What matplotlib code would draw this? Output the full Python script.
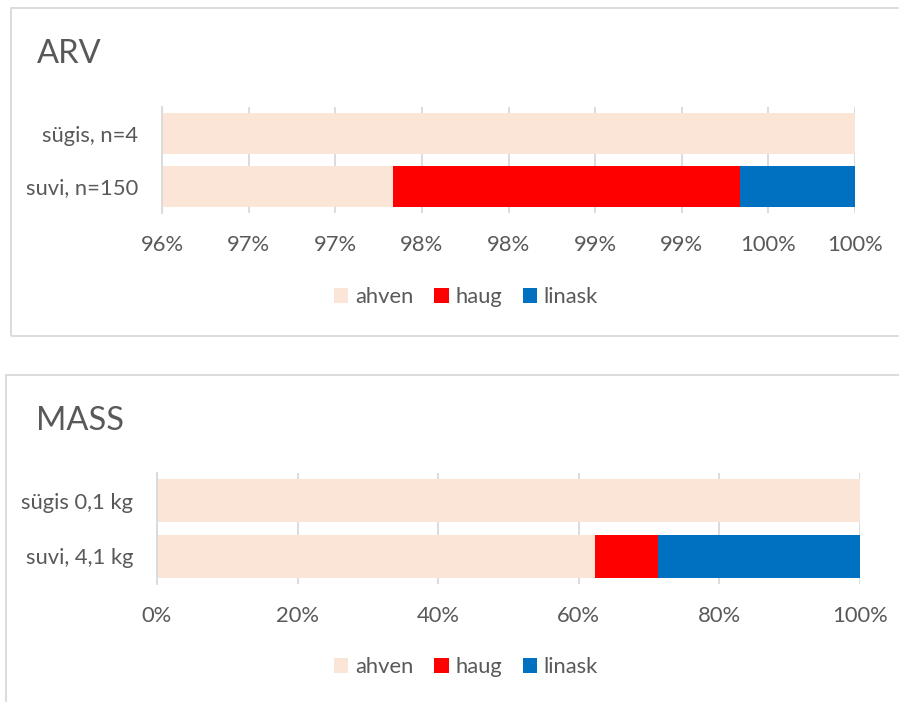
import matplotlib
matplotlib.use("Agg")
import matplotlib.pyplot as plt
from matplotlib.patches import Rectangle, Patch

plt.rcParams['font.family'] = ['Lato', 'DejaVu Sans']

# ---- data ----
species = ["ahven", "haug", "linask"]
colors = ["#FBE5D6", "#FF0000", "#0070C0"]

arv_categories = ["sügis, n=4", "suvi, n=150"]
arv_ahven = [4, 146]
arv_haug = [0, 3]
arv_linask = [0, 1]
arv_ticks = [96, 96.5, 97, 97.5, 98, 98.5, 99, 99.5, 100]
arv_ticklabels = ["96%", "97%", "97%", "98%", "98%", "99%", "99%", "100%", "100%"]

mass_categories = ["sügis 0,1 kg", "suvi, 4,1 kg"]
mass_ahven = [100, 62.3]
mass_haug = [0, 8.9]
mass_linask = [0, 28.8]
mass_ticks = [0, 20, 40, 60, 80, 100]
mass_ticklabels = ["0%", "20%", "40%", "60%", "80%", "100%"]

W, H = 899, 702
fig = plt.figure(figsize=(W / 100, H / 100), dpi=100)

TXT = "#595959"
GRID = "#D9D9D9"
FS = 15.8


def fx(px):
    return px / W


def fy(py):
    return 1 - py / H


# panel borders
fig.add_artist(Rectangle((fx(11), fy(336)), fx(1000 - 11), fy(8) - fy(336),
                         transform=fig.transFigure, fill=False, ec="#D9D9D9", lw=1.3))
fig.add_artist(Rectangle((fx(6), fy(760)), fx(1000 - 6), fy(375) - fy(760),
                         transform=fig.transFigure, fill=False, ec="#D9D9D9", lw=1.3))


def draw(rect, cats, a, h, l, xlim, ticks, ticklabels, title, title_xy, legend_y):
    x0, x1, y0, y1 = rect
    ax = fig.add_axes([fx(x0), fy(y1), fx(x1) - fx(x0), fy(y0) - fy(y1)])
    totals = [ai + hi + li for ai, hi, li in zip(a, h, l)]
    pa = [100 * ai / t for ai, t in zip(a, totals)]
    ph = [100 * hi / t for hi, t in zip(h, totals)]
    pl = [100 * li / t for li, t in zip(l, totals)]
    y = list(range(len(cats)))
    bh = 0.78
    ax.barh(y, pa, height=bh, color=colors[0], zorder=2)
    ax.barh(y, ph, left=pa, height=bh, color=colors[1], zorder=2)
    left3 = [p + q for p, q in zip(pa, ph)]
    ax.barh(y, pl, left=left3, height=bh, color=colors[2], zorder=2)
    ax.set_xlim(*xlim)
    ax.set_ylim(len(cats) - 0.5, -0.5)
    ax.set_xticks(ticks)
    ax.set_xticklabels(ticklabels)
    ax.set_yticks(y)
    ax.set_yticklabels(cats)
    ax.grid(axis="x", color=GRID, lw=1.3, zorder=0)
    for s in ["top", "right", "bottom"]:
        ax.spines[s].set_visible(False)
    ax.spines["left"].set_color(GRID)
    ax.spines["left"].set_linewidth(1.3)
    ax.tick_params(axis="x", length=0, pad=15.5, labelsize=FS, labelcolor=TXT)
    ax.tick_params(axis="y", length=0, pad=17, labelsize=FS, labelcolor=TXT)
    ax.set_axisbelow(True)
    fig.text(fx(title_xy[0]), fy(title_xy[1]), title, fontsize=23.5, color=TXT,
             ha="left", va="baseline")
    handles = [Patch(facecolor=c, edgecolor="none") for c in colors]
    fig.legend(handles, species, loc="center", bbox_to_anchor=(fx(466), fy(legend_y)),
               ncol=3, frameon=False, fontsize=FS, labelcolor=TXT,
               handlelength=0.65, handleheight=0.65, handletextpad=0.3,
               columnspacing=0.95)
    return ax


draw((162, 855, 107, 213), arv_categories, arv_ahven, arv_haug, arv_linask,
     (96, 100), arv_ticks, arv_ticklabels, "ARV", (37, 63), 297)
draw((157, 860, 473, 584), mass_categories, mass_ahven, mass_haug, mass_linask,
     (0, 100), mass_ticks, mass_ticklabels, "MASS", (36, 430), 667)

fig.savefig("out.png", dpi=100, facecolor="white")
